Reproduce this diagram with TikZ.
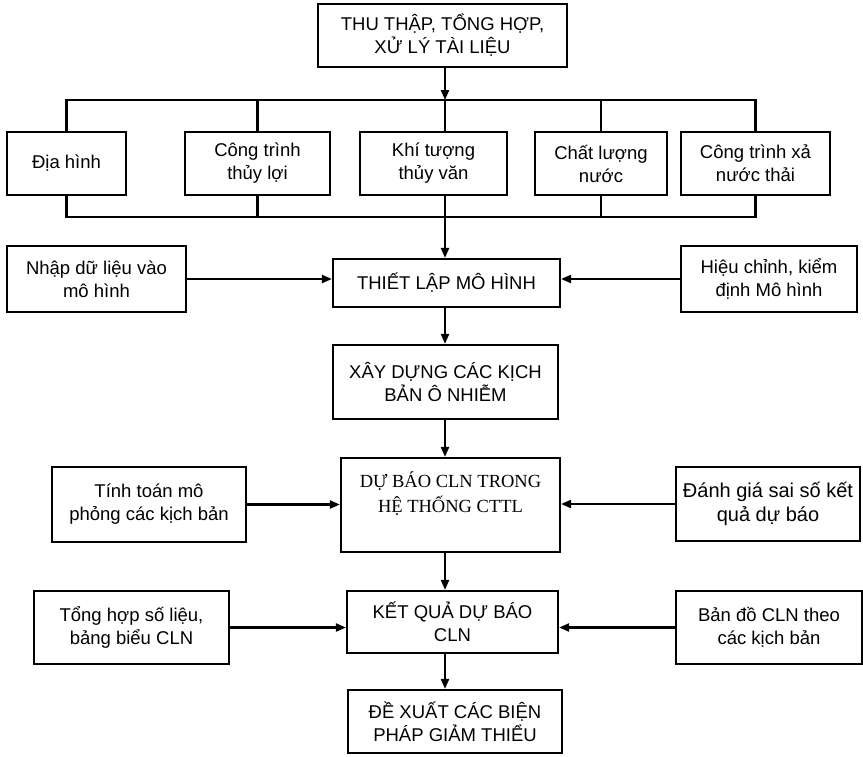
\documentclass[tikz,border=0pt]{standalone}
\usepackage{fontspec}
\setmainfont{Liberation Sans}
\newfontfamily\serifvn{Liberation Serif}
\usetikzlibrary{
    positioning,
    arrows.meta
}
\tikzset{
    >={Triangle[length=10pt,width=8pt]},
    hop/.style={
        draw,
        line width=2.2pt,
        align=center,
        inner sep=2pt,
        font=\fontsize{18.5}{23}\selectfont
    }
}

\begin{document}
\begin{tikzpicture}[
    x=1pt, y=-1pt,
    line width=2.2pt
]
    \useasboundingbox (0,0) rectangle (863,756);

    % Truc giua va hai thanh ngang
    \coordinate (truc) at (445,0);
    \coordinate (bt)   at (0,100);
    \coordinate (bb)   at (0,217);

    % Thu thap tai lieu
    \node[hop, minimum width=249pt, minimum height=63pt] (th) at (442.5,35.5)
        {THU THẬP, TỔNG HỢP,\\XỬ LÝ TÀI LIỆU};

    % Cac nhom du lieu
    \node[hop, minimum width=119pt, minimum height=63pt] (dh) at (66.5,163.5)  {Địa hình};
    \node[hop, minimum width=145pt, minimum height=63pt] (ct) at (257.5,163.5) {Công trình\\thủy lợi};
    \node[hop, minimum width=147pt, minimum height=63pt] (kt) at (433.5,163.5) {Khí tượng\\thủy văn};
    \node[hop, minimum width=132pt, minimum height=63pt] (cl) at (601,163.5)   {Chất lượng\\nước};
    \node[hop, minimum width=149pt, minimum height=63pt] (xt) at (755.5,163.5) {Công trình xả\\nước thải};

    % Thiet lap mo hinh
    \node[hop, minimum width=179pt, minimum height=66pt] (nh) at (96.5,279)  {Nhập dữ liệu vào\\mô hình};
    \node[hop, minimum width=227pt, minimum height=48pt] (tl) at (446.5,283) {THIẾT LẬP MÔ HÌNH};
    \node[hop, minimum width=176pt, minimum height=66pt] (hc) at (769,279)   {Hiệu chỉnh, kiểm\\định Mô hình};

    \node[hop, minimum width=225pt, minimum height=74pt] (xd) at (445.5,382)
        {XÂY DỰNG CÁC KỊCH\\BẢN Ô NHIỄM};

    % Du bao
    \node[hop, minimum width=194pt, minimum height=75pt] (tt) at (149,504.5) {Tính toán mô\\phỏng các kịch bản};
    \node[hop, minimum width=219pt, minimum height=94pt,
          font=\serifvn\fontsize{18.5}{25}\selectfont] (db) at (450.5,505)
        {DỰ BÁO CLN TRONG\\HỆ THỐNG CTTL\\\mbox{}};
    \node[hop, minimum width=184pt, minimum height=74pt,
          font=\fontsize{20}{24}\selectfont] (dg) at (768,504)
        {Đánh giá sai số kết\\quả dự báo};

    % Ket qua
    \node[hop, minimum width=195pt, minimum height=73pt] (tk) at (131.5,627.5) {Tổng hợp số liệu,\\bảng biểu CLN};
    \node[hop, minimum width=211pt, minimum height=62pt] (kq) at (452.5,622)   {KẾT QUẢ DỰ BÁO\\CLN};
    \node[hop, minimum width=186pt, minimum height=73pt] (bd) at (769,627.5)   {Bản đồ CLN theo\\các kịch bản};

    \node[hop, minimum width=214pt, minimum height=63pt] (dx) at (455,721.5)
        {ĐỀ XUẤT CÁC BIỆN\\PHÁP GIẢM THIỂU};

    % Thanh phan nhanh
    \draw[->] (th.south -| truc) -- (bt -| truc);
    \draw (dh.north) |- (bt -| xt.north) -- (xt.north);
    \draw (dh.south) |- (bb -| xt.south) -- (xt.south);
    \foreach \n in {ct, cl}{
        \draw (\n.north) -- (\n.north |- bt);
        \draw (\n.south) -- (\n.south |- bb);
    }
    \draw (kt.north -| truc) -- (bt -| truc);
    \draw (kt.south -| truc) -- (bb -| truc);

    % Luong chinh
    \draw[->] (bb -| truc) -- (tl.north -| truc);
    \draw[->] (tl.south -| truc) -- (xd.north -| truc);
    \draw[->] (xd.south -| truc) -- (db.north -| truc);
    \draw[->] (db.south -| truc) -- (kq.north -| truc);
    \draw[->] (kq.south -| truc) -- (dx.north -| truc);

    % Mui ten hai ben
    \draw[->] (nh.east) -- (nh.east -| tl.west);
    \draw[->] (hc.west) -- (hc.west -| tl.east);
    \draw[->] (tt.east) -- (tt.east -| db.west);
    \draw[->] (dg.west) -- (dg.west -| db.east);
    \draw[->] (tk.east) -- (tk.east -| kq.west);
    \draw[->] (bd.west) -- (bd.west -| kq.east);

\end{tikzpicture}
\end{document}
